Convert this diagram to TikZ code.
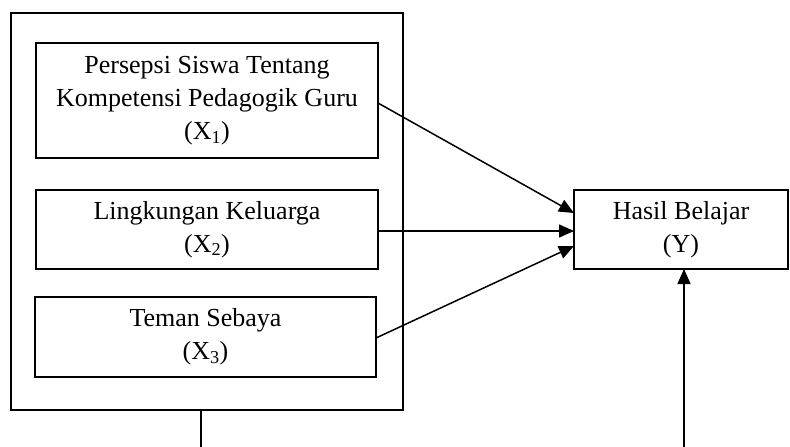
\documentclass[tikz,border=0pt]{standalone}
\usepackage{fontspec}
\setmainfont{Liberation Serif}
\usetikzlibrary{arrows.meta}
\begin{document}
\begin{tikzpicture}[x=1pt,y=-1pt,
  box/.style={draw,line width=1.5pt,inner sep=0pt,outer sep=0pt,align=center,
    font=\fontsize{26}{33}\selectfont},
  conn/.style={line width=1.5pt,-{Triangle[length=15pt,width=13pt]}},
  plain/.style={line width=1.5pt}]
\useasboundingbox (0,0) rectangle (790,447);
\node[box,minimum width=392pt,minimum height=397pt] (outer) at (207,211.5) {};
\node[box,minimum width=342pt,minimum height=115pt] (x1) at (207,100.5)
  {Persepsi Siswa Tentang\\Kompetensi Pedagogik Guru\\(X\textsubscript{1})};
\node[box,minimum width=342pt,minimum height=79pt] (x2) at (207,229.5)
  {Lingkungan Keluarga\\(X\textsubscript{2})};
\node[box,minimum width=341pt,minimum height=80pt] (x3) at (205.5,337)
  {Teman Sebaya\\(X\textsubscript{3})};
\node[box,minimum width=214pt,minimum height=79pt] (y) at (681,229.5)
  {Hasil Belajar\\(Y)};
\draw[conn] ([yshift=-2.5pt]x1.east) -- ([yshift=16.5pt]y.west);
\draw[conn] ([yshift=-1.5pt]x2.east) -- ([yshift=-1.5pt]y.west);
\draw[conn] ([yshift=-1pt]x3.east) -- ([yshift=-16.5pt]y.west);
\coordinate (b1) at (201,447);
\coordinate (b2) at (684,447);
\draw[plain] (b1) -- (b1 |- outer.south);
\draw[conn] (b2) -- (b2 |- y.south);
\end{tikzpicture}
\end{document}
